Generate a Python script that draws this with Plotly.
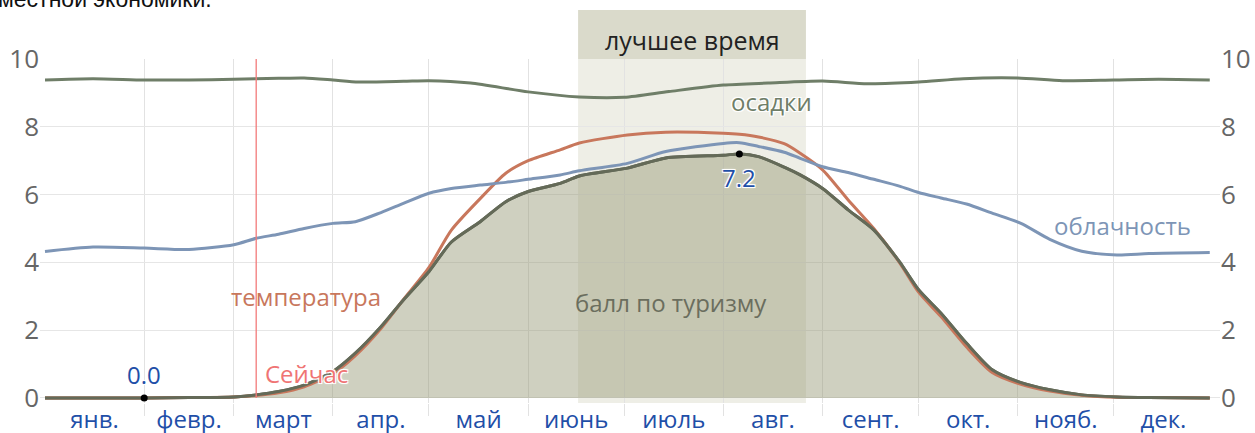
import plotly.graph_objects as go

# день года (0 = 1 янв.)
days = [0, 15, 31, 45, 59, 66, 73, 81, 90, 97, 105, 112, 120, 127, 136, 144, 151, 161, 167, 182,
        194, 212, 217, 223, 231, 236, 243, 251, 259, 267, 273, 280, 288, 296, 305, 314, 324, 335, 345, 364]

tourism = [0, 0, 0, 0.01, 0.03, 0.09, 0.19, 0.38, 0.78, 1.32, 2.10, 2.89, 3.73, 4.60, 5.20, 5.79, 6.09, 6.33, 6.55, 6.78,
           7.08, 7.16, 7.20, 7.12, 6.81, 6.58, 6.18, 5.55, 4.96, 4.02, 3.19, 2.50, 1.61, 0.83, 0.45, 0.24, 0.09, 0.03, 0.01, 0]

temperature = [0, 0, 0, 0.01, 0.03, 0.07, 0.15, 0.33, 0.72, 1.25, 2.05, 2.90, 3.85, 4.95, 5.88, 6.63, 7.00, 7.32, 7.52, 7.76,
               7.84, 7.81, 7.78, 7.70, 7.50, 7.22, 6.73, 5.84, 5.00, 4.00, 3.12, 2.40, 1.50, 0.75, 0.40, 0.20, 0.08, 0.02, 0.01, 0]

cloud = [4.32, 4.45, 4.42, 4.38, 4.52, 4.71, 4.83, 5.00, 5.15, 5.20, 5.47, 5.74, 6.04, 6.18, 6.28, 6.36, 6.45, 6.58, 6.70, 6.92,
         7.27, 7.51, 7.53, 7.42, 7.25, 7.07, 6.82, 6.65, 6.45, 6.25, 6.06, 5.90, 5.72, 5.45, 5.15, 4.68, 4.33, 4.22, 4.26, 4.29]

precip_days = [0, 15, 31, 45, 59, 73, 81, 90, 98, 112, 120, 133, 151, 167, 181, 195, 212, 226, 243, 257, 273, 287, 304, 318, 334, 348, 364]
precip = [9.38, 9.42, 9.38, 9.38, 9.40, 9.43, 9.44, 9.38, 9.32, 9.34, 9.36, 9.29, 9.03, 8.88, 8.87, 9.04, 9.23, 9.29, 9.35,
          9.27, 9.32, 9.42, 9.44, 9.36, 9.38, 9.40, 9.38]

month_starts = [0, 31, 59, 90, 120, 151, 181, 212, 243, 273, 304, 334, 365]
month_names = ["янв.", "февр.", "март", "апр.", "май", "июнь", "июль", "авг.", "сент.", "окт.", "нояб.", "дек."]

now_day = 66
best_start, best_end = 166.6, 237.8
min_day = 31

X_RANGE = [-1.56, 367.2]
Y_RANGE = [-0.15, 10]
FONT = "Open Sans"
BLUE = "#1f4fa8"
PAGE = 0  # отступ body убран через post_script
W, H = 1255, 433
TOP, BOTTOM, LEFT, RIGHT = 59 - PAGE, H - (403 - PAGE), 40 - PAGE, W - (1220 - PAGE)
HALO = "-1px -1px 0 #fff, 1px -1px 0 #fff, -1px 1px 0 #fff, 1px 1px 0 #fff, 0 0 3px #fff"

month_mid = [(a + b) / 2 for a, b in zip(month_starts[:-1], month_starts[1:])]


def x_paper(d):
    return (d - X_RANGE[0]) / (X_RANGE[1] - X_RANGE[0])


def y_paper(px):
    # пиксель окна -> доля высоты области графика
    return (H - BOTTOM - (px - PAGE)) / (H - TOP - BOTTOM)


fig = go.Figure()

fig.add_trace(go.Scatter(x=days, y=tourism, mode="lines", fill="tozeroy",
                         fillcolor="rgba(149,151,116,0.45)",
                         line=dict(color="#646a58", width=3, shape="spline", smoothing=0.7)))
fig.add_trace(go.Scatter(x=days, y=temperature, mode="lines",
                         line=dict(color="#c8775c", width=3, shape="spline", smoothing=0.7)))
fig.add_trace(go.Scatter(x=days, y=cloud, mode="lines",
                         line=dict(color="#7d95b6", width=3, shape="spline", smoothing=0.7)))
fig.add_trace(go.Scatter(x=precip_days, y=precip, mode="lines",
                         line=dict(color="#6f7e68", width=3, shape="spline", smoothing=0.7)))
# линия балла поверх остальных
fig.add_trace(go.Scatter(x=days, y=tourism, mode="lines",
                         line=dict(color="#646a58", width=3, shape="spline", smoothing=0.7)))

i_max = tourism.index(max(tourism))
i_min = days.index(min_day)
fig.add_trace(go.Scatter(x=[days[i_min], days[i_max]], y=[tourism[i_min], tourism[i_max]],
                         mode="markers", marker=dict(color="black", size=7), cliponaxis=False))
fig.add_trace(go.Scatter(x=[0, 1], y=[0, 1], yaxis="y2", visible=False))

# лучшее время
fig.add_shape(type="rect", xref="x", yref="y", x0=best_start, x1=best_end, y0=Y_RANGE[0], y1=Y_RANGE[1],
              fillcolor="#eeeee6", line_width=0, layer="below")
fig.add_shape(type="rect", xref="paper", yref="paper", x0=x_paper(best_start), x1=x_paper(best_end),
              y0=1.0, y1=y_paper(10), fillcolor="#dadacb", line_width=0, layer="below")
# сейчас
fig.add_shape(type="line", xref="x", yref="y", x0=now_day, x1=now_day, y0=0, y1=10,
              line=dict(color="#f27a7a", width=1.3), layer="above")

ann = [
    dict(x=(best_start + best_end) / 2, y=y_paper(40), yref="paper", text="лучшее время",
         font=dict(size=25, color="#222222")),
    dict(x=81.5, y=2.98, text="температура", font=dict(size=24, color="#c8775c")),
    dict(x=now_day + 2, y=0.72, text="Сейчас", xanchor="left",
         font=dict(size=24, color="#ef7474", shadow=HALO)),
    dict(x=227, y=8.76, text="осадки", font=dict(size=24, color="#6f7e68", shadow=HALO)),
    dict(x=336.6, y=5.1, text="облачность", font=dict(size=24, color="#7d95b6", shadow=HALO)),
    dict(x=195.6, y=2.83, text="балл по туризму", font=dict(size=24, color="#6b6e5e")),
    dict(x=days[i_min], y=tourism[i_min], yshift=23, text=f"{tourism[i_min]:.1f}",
         font=dict(size=24, color=BLUE, shadow=HALO)),
    dict(x=days[i_max], y=tourism[i_max], yshift=-24, text=f"{tourism[i_max]:.1f}",
         font=dict(size=24, color=BLUE, shadow=HALO)),
    dict(x=0, xref="paper", y=y_paper(-1), yref="paper", xanchor="left", xshift=-LEFT - 4,
         text="местной экономики.", font=dict(size=23, color="#111111", family="Liberation Sans")),
]
for a in ann:
    a.setdefault("xref", "x")
    a.setdefault("yref", "y")
    a.setdefault("showarrow", False)
    a.setdefault("yanchor", "middle")
    fig.add_annotation(**a)

yax = dict(range=Y_RANGE, tickvals=[0, 2, 4, 6, 8, 10], showgrid=True, gridcolor="#e6e6e6", gridwidth=1.2,
           zeroline=False, showline=False, ticks="", automargin=False,
           tickfont=dict(size=26, color="#666666", family=FONT), fixedrange=True)

fig.update_layout(
    width=W, height=H,
    margin=dict(l=LEFT, r=RIGHT, t=TOP, b=BOTTOM, autoexpand=False),
    paper_bgcolor="white", plot_bgcolor="white",
    showlegend=False,
    font=dict(family=FONT),
    xaxis=dict(range=X_RANGE, tickmode="array", tickvals=month_mid, ticktext=month_names,
               showgrid=False, zeroline=False, showline=False, ticks="", automargin=False,
               tickfont=dict(size=24, color=BLUE, family=FONT), ticklabelstandoff=0,
               minor=dict(tickmode="array", tickvals=month_starts[1:-1], showgrid=True,
                          gridcolor="#e2e2e2", gridwidth=1.2, ticks="outside", ticklen=12,
                          tickcolor="#e2e2e2", tickwidth=1.2)),
    yaxis=yax,
    yaxis2=dict(yax, overlaying="y", side="right", showgrid=False),
)

fig.write_html("out.html", config={"displayModeBar": False},
               post_script="document.body.style.margin = '0';")
